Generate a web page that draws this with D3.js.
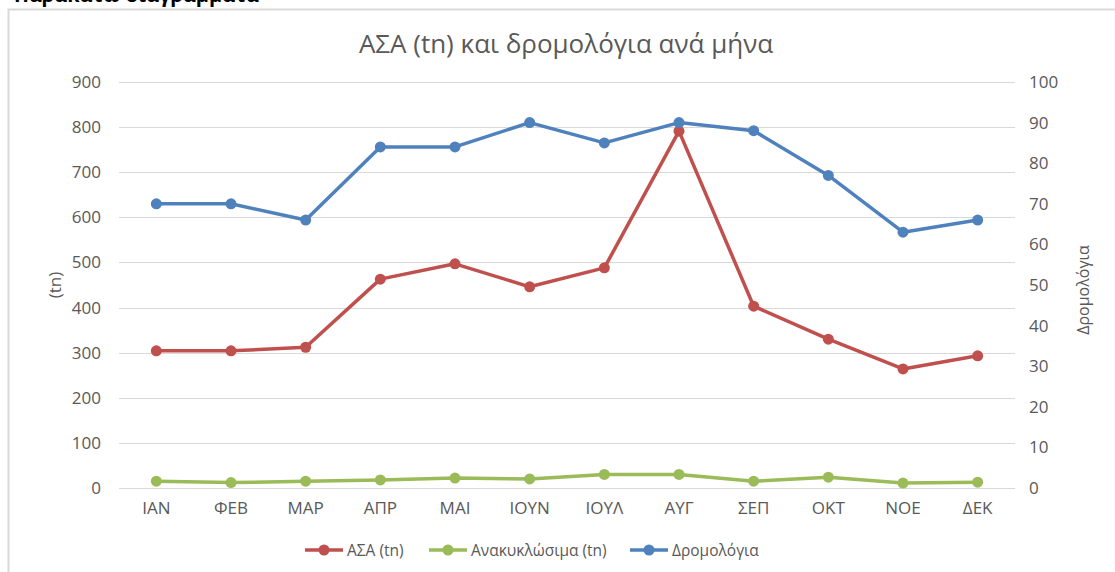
<!DOCTYPE html>
<html>
<head>
<meta charset="utf-8">
<script src="https://cdn.jsdelivr.net/npm/d3@7"></script>
<style>
  body { margin: 0; background: #fff; }
  text { font-family: "Open Sans", "Noto Sans", sans-serif; }
</style>
</head>
<body>
<div id="chart"></div>
<script>
// Τα δεδομένα του γραφήματος
const months = ["ΙΑΝ", "ΦΕΒ", "ΜΑΡ", "ΑΠΡ", "ΜΑΙ", "ΙΟΥΝ", "ΙΟΥΛ", "ΑΥΓ", "ΣΕΠ", "ΟΚΤ", "ΝΟΕ", "ΔΕΚ"]
const asa = [304, 304, 312, 463, 497, 446, 488, 791, 403, 330, 264, 293]
const recyclables = [15, 12, 15, 18, 22, 20, 30, 30, 15, 24, 11, 13]
const routes = [70, 70, 66, 84, 84, 90, 85, 90, 88, 77, 63, 66]
const leftTicks = [0, 100, 200, 300, 400, 500, 600, 700, 800, 900]
const rightTicks = [0, 10, 20, 30, 40, 50, 60, 70, 80, 90, 100]

const width = 1115
const height = 572
const margin = { top: 82, bottom: 84, left: 119, right: 100 }
const grey = "#595959"

const svg = d3.select("#chart").append("svg").attr("width", width).attr("height", height)

// κομμένος τίτλος του κειμένου πάνω από το γράφημα (φαίνεται μόνο το κάτω μέρος)
svg.append("text")
    .attr("x", 14).attr("y", 1.5)
    .attr("font-size", 20).attr("font-weight", "bold").attr("fill", "#000")
    .text("Παρακάτω διαγράμματα")

// πλαίσιο γραφήματος
svg.append("rect")
    .attr("x", 8.5).attr("y", 9.5)
    .attr("width", width + 20).attr("height", height + 20)
    .attr("fill", "#fff").attr("stroke", "#d9d9d9").attr("stroke-width", 2)

const x = d3.scaleBand().domain(months).range([margin.left, width - margin.right])
const yLeft = d3.scaleLinear().domain([0, 900]).range([height - margin.bottom, margin.top])
const yRight = d3.scaleLinear().domain([0, 100]).range([height - margin.bottom, margin.top])
const cx = d => x(d) + x.bandwidth() / 2

// γραμμές πλέγματος
svg.append("g").selectAll("line").data(leftTicks).join("line")
    .attr("x1", margin.left).attr("x2", width - margin.right)
    .attr("y1", d => Math.round(yLeft(d)) + 0.5).attr("y2", d => Math.round(yLeft(d)) + 0.5)
    .attr("stroke", "#d9d9d9").attr("stroke-width", 1)

// άξονες
const leftAxis = svg.append("g")
    .attr("transform", `translate(${margin.left},0)`)
    .call(d3.axisLeft(yLeft).tickValues(leftTicks).tickSize(0).tickPadding(18))
const rightAxis = svg.append("g")
    .attr("transform", `translate(${width - margin.right},0)`)
    .call(d3.axisRight(yRight).tickValues(rightTicks).tickSize(0).tickPadding(14))
const bottomAxis = svg.append("g")
    .attr("transform", `translate(0,${height - margin.bottom})`)
    .call(d3.axisBottom(x).tickSize(0).tickPadding(14))

;[leftAxis, rightAxis, bottomAxis].forEach(g => {
    g.select(".domain").remove()
    g.selectAll("text").attr("font-size", 17).attr("fill", grey)
        .attr("font-family", "'Open Sans', sans-serif")
})

// τίτλοι
svg.append("text")
    .attr("x", 566).attr("y", 53).attr("text-anchor", "middle")
    .attr("font-size", 26).attr("fill", grey)
    .text("ΑΣΑ (tn) και δρομολόγια ανά μήνα")
svg.append("text")
    .attr("transform", "translate(61,285) rotate(-90)").attr("text-anchor", "middle")
    .attr("font-size", 17).attr("fill", grey)
    .text("(tn)")
svg.append("text")
    .attr("transform", "translate(1089,290) rotate(-90)").attr("text-anchor", "middle")
    .attr("font-size", 16).attr("fill", grey)
    .text("Δρομολόγια")

// σειρές
const series = [
    { name: "ΑΣΑ (tn)", values: asa, scale: yLeft, color: "#C0504D" },
    { name: "Ανακυκλώσιμα (tn)", values: recyclables, scale: yLeft, color: "#9BBB59" },
    { name: "Δρομολόγια", values: routes, scale: yRight, color: "#4F81BD" }
]

series.forEach(s => {
    const g = svg.append("g")
    g.append("path")
        .datum(s.values)
        .attr("fill", "none").attr("stroke", s.color).attr("stroke-width", 3.5)
        .attr("stroke-linejoin", "round")
        .attr("d", d3.line().x((d, i) => cx(months[i])).y(d => s.scale(d)))
    g.selectAll("circle").data(s.values).join("circle")
        .attr("cx", (d, i) => cx(months[i])).attr("cy", d => s.scale(d))
        .attr("r", 5.5).attr("fill", s.color)
})

// υπόμνημα
const legendX = [305, 429, 630]
const legend = svg.append("g").attr("transform", "translate(0,550)")
series.forEach((s, i) => {
    const lg = legend.append("g").attr("transform", `translate(${legendX[i]},0)`)
    lg.append("line").attr("x1", 0).attr("x2", 38).attr("stroke", s.color).attr("stroke-width", 3.5)
    lg.append("circle").attr("cx", 19).attr("r", 5.5).attr("fill", s.color)
    lg.append("text").attr("x", 42).attr("y", 5.5)
        .attr("font-size", 15.5).attr("fill", grey).text(s.name)
})
</script>
</body>
</html>
